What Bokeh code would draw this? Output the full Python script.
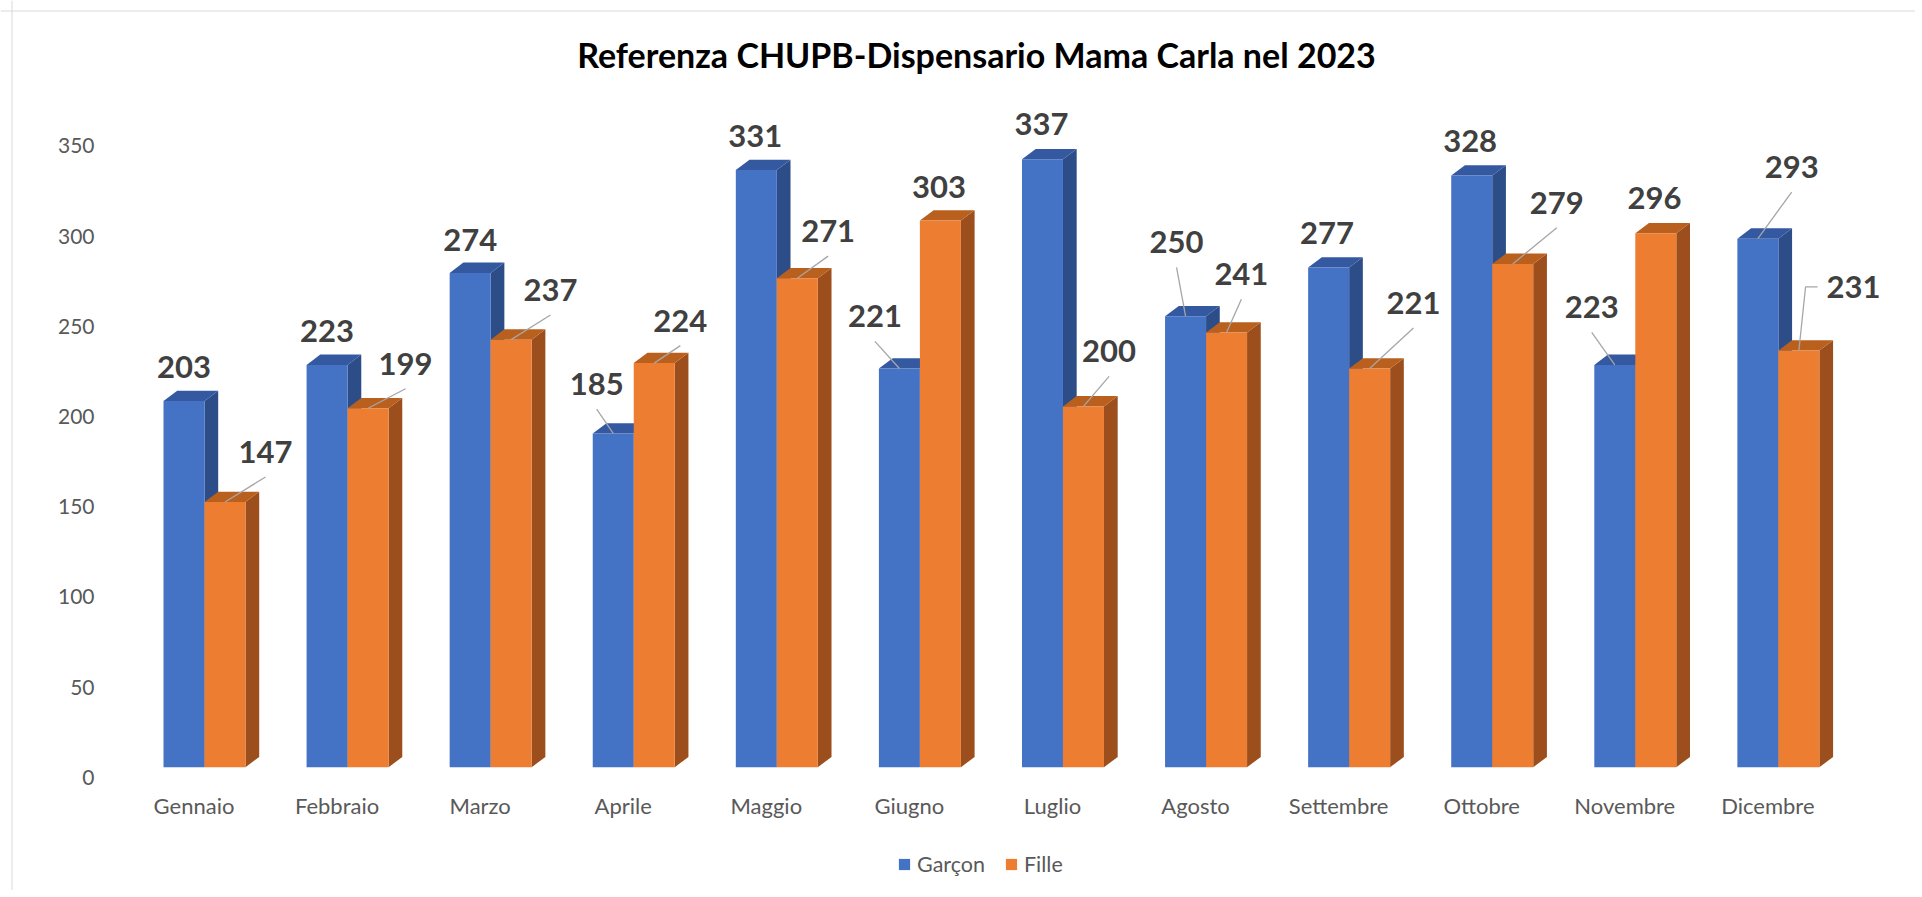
from bokeh.plotting import figure
from bokeh.models import Range1d, FixedTicker, ColumnDataSource, Legend, LegendItem, Span
from bokeh.core.properties import value
from bokeh.embed import file_html
from bokeh.resources import INLINE

# ---------------- data ----------------
TITLE = "Referenza CHUPB-Dispensario Mama Carla nel 2023"
months = ["Gennaio", "Febbraio", "Marzo", "Aprile", "Maggio", "Giugno",
          "Luglio", "Agosto", "Settembre", "Ottobre", "Novembre", "Dicembre"]
garcon = [203, 223, 274, 185, 331, 221, 337, 250, 277, 328, 223, 293]
fille = [147, 199, 237, 224, 271, 303, 200, 241, 221, 279, 296, 231]
y_ticks = [0, 50, 100, 150, 200, 250, 300, 350]
series_names = ["Garçon", "Fille"]

# ---------------- label layout (pixels: dx, dy up, leader kind) ----------------
garcon_lbl = [(0, 34, 0), (0, 34, 0), (0, 33, 0), (-16.6, 49.4, 1), (-1, 33.7, 0), (-24.5, 52.2, 1),
              (-1, 34.8, 0), (-9, 73.9, 1), (-1.6, 34.8, 0), (-1.6, 34.6, 0), (-23.1, 57.6, 1), (33.8, 71.6, 1)]
fille_lbl = [(40.5, 50, 1), (37.5, 44.5, 1), (39.3, 49.7, 1), (26.1, 42.5, 1), (30.8, 47.2, 1), (-1.4, 33.6, 0),
             (25.6, 55, 1), (14.8, 58.2, 1), (43.8, 65.6, 1), (44.1, 61.2, 1), (-1.4, 34.9, 0), (54.7, 63.7, 2)]

# ---------------- geometry ----------------
W, H = 1915, 890
ORIG = 0
PXX = 143.08
PXY = 1.804
X0_PAGE = 193.5
Y0_PAGE = 776.7

x_start = (ORIG - X0_PAGE) / PXX
x_end = x_start + W / PXX
y_end = (Y0_PAGE - ORIG) / PXY
y_start = y_end - H / PXY


def px(page_x):
    return x_start + (page_x - ORIG) / PXX


def py(page_y):
    return y_end - (page_y - ORIG) / PXY


SHIFT = 10.5 / PXX
BW = 41 / PXX
DX = 13.7 / PXX
DY = 10.3 / PXY
OFF = 10 / PXY

p = figure(width=W, height=H, x_range=Range1d(x_start, x_end), y_range=Range1d(y_start, y_end),
           output_backend="svg", toolbar_location=None, min_border=0,
           min_border_left=0, min_border_right=0, min_border_top=0, min_border_bottom=0)
p.outline_line_color = None
p.xgrid.visible = False
p.ygrid.visible = False
p.background_fill_color = "white"
p.border_fill_color = "white"

colors = [
    {"front": "#4472C4", "side": "#2C4D87", "top": "#3559A0"},
    {"front": "#ED7D31", "side": "#9C4F1C", "top": "#BA601F"},
]

front_renderers = []
label_x, label_y, label_t = [], [], []
lead_xs, lead_ys = [], []

for s, (vals, lay) in enumerate([(garcon, garcon_lbl), (fille, fille_lbl)]):
    n = len(vals)
    left = [i + SHIFT - BW + s * BW for i in range(n)]
    right = [l + BW for l in left]
    top = [v + OFF for v in vals]
    side_xs = [[r, r + DX, r + DX, r] for r in right]
    side_ys = [[OFF, OFF + DY, t + DY, t] for t in top]
    top_xs = [[l, r, r + DX, l + DX] for l, r in zip(left, right)]
    top_ys = [[t, t, t + DY, t + DY] for t in top]
    p.patches(side_xs, side_ys, fill_color=colors[s]["side"], line_color=None)
    p.patches(top_xs, top_ys, fill_color=colors[s]["top"], line_color=None)
    src = ColumnDataSource(dict(left=left, right=right, bottom=[OFF] * n, top=top))
    r = p.quad(left="left", right="right", bottom="bottom", top="top", source=src,
               fill_color=colors[s]["front"], line_color=None)
    front_renderers.append(r)
    for i, v in enumerate(vals):
        dx, dy, kind = lay[i]
        cx = (left[i] + right[i]) / 2
        lx = cx + dx / PXX
        lcy = top[i] + dy / PXY
        label_x.append(lx)
        label_y.append(lcy)
        label_t.append(str(v))
        if kind == 1:
            lead_xs.append([cx, lx])
            lead_ys.append([top[i], lcy - 25 / PXY])
        elif kind == 2:
            lead_xs.append([cx, lx - 48 / PXX, lx - 36 / PXX])
            lead_ys.append([top[i], lcy, lcy])

p.multi_line(lead_xs, lead_ys, line_color="#A6A6A6", line_width=1.3)
p.text(x=label_x, y=label_y, text=label_t, text_font=value("Lato"), text_font_style="bold",
       text_font_size="31px", text_color="#404040", text_align="center", text_baseline="middle")

# title
p.text(x=[px(976)], y=[py(53.5)], text=[TITLE], text_font=value("Lato"), text_font_style="bold",
       text_font_size="34px", text_color="#000000", text_align="center", text_baseline="middle")

# axes
p.yaxis.ticker = FixedTicker(ticks=y_ticks)
p.yaxis.fixed_location = px(122)
p.yaxis.major_label_standoff = 22
p.yaxis.axis_line_color = None
p.yaxis.major_tick_line_color = None
p.yaxis.minor_tick_line_color = None
p.yaxis.major_label_text_font = "Lato"
p.yaxis.major_label_text_font_size = "21px"
p.yaxis.major_label_text_color = "#595959"

p.xaxis.ticker = FixedTicker(ticks=list(range(len(months))))
p.xaxis.major_label_overrides = {i: m for i, m in enumerate(months)}
p.xaxis.fixed_location = py(777)
p.xaxis.major_label_standoff = 8
p.xaxis.axis_line_color = None
p.xaxis.major_tick_line_color = None
p.xaxis.minor_tick_line_color = None
p.xaxis.major_label_text_font = "Lato"
p.xaxis.major_label_text_font_size = "22px"
p.xaxis.major_label_text_color = "#595959"

# chart border (left and top edges visible in the reference)
p.add_layout(Span(location=px(11.5), dimension="height", line_color="#D9D9D9", line_width=1))
p.add_layout(Span(location=py(10.5), dimension="width", line_color="#D9D9D9", line_width=1))

legend = Legend(items=[LegendItem(label=series_names[0], renderers=[front_renderers[0]]),
                       LegendItem(label=series_names[1], renderers=[front_renderers[1]])],
                location=(897 - ORIG, ORIG + H - 877), orientation="horizontal",
                glyph_width=14, glyph_height=14, label_standoff=6, spacing=19,
                padding=0, margin=0, border_line_color=None, background_fill_alpha=0,
                label_text_font="Lato", label_text_font_size="21.5px", label_text_color="#595959")
p.add_layout(legend)

open("out.html", "w").write(file_html(p, INLINE))
